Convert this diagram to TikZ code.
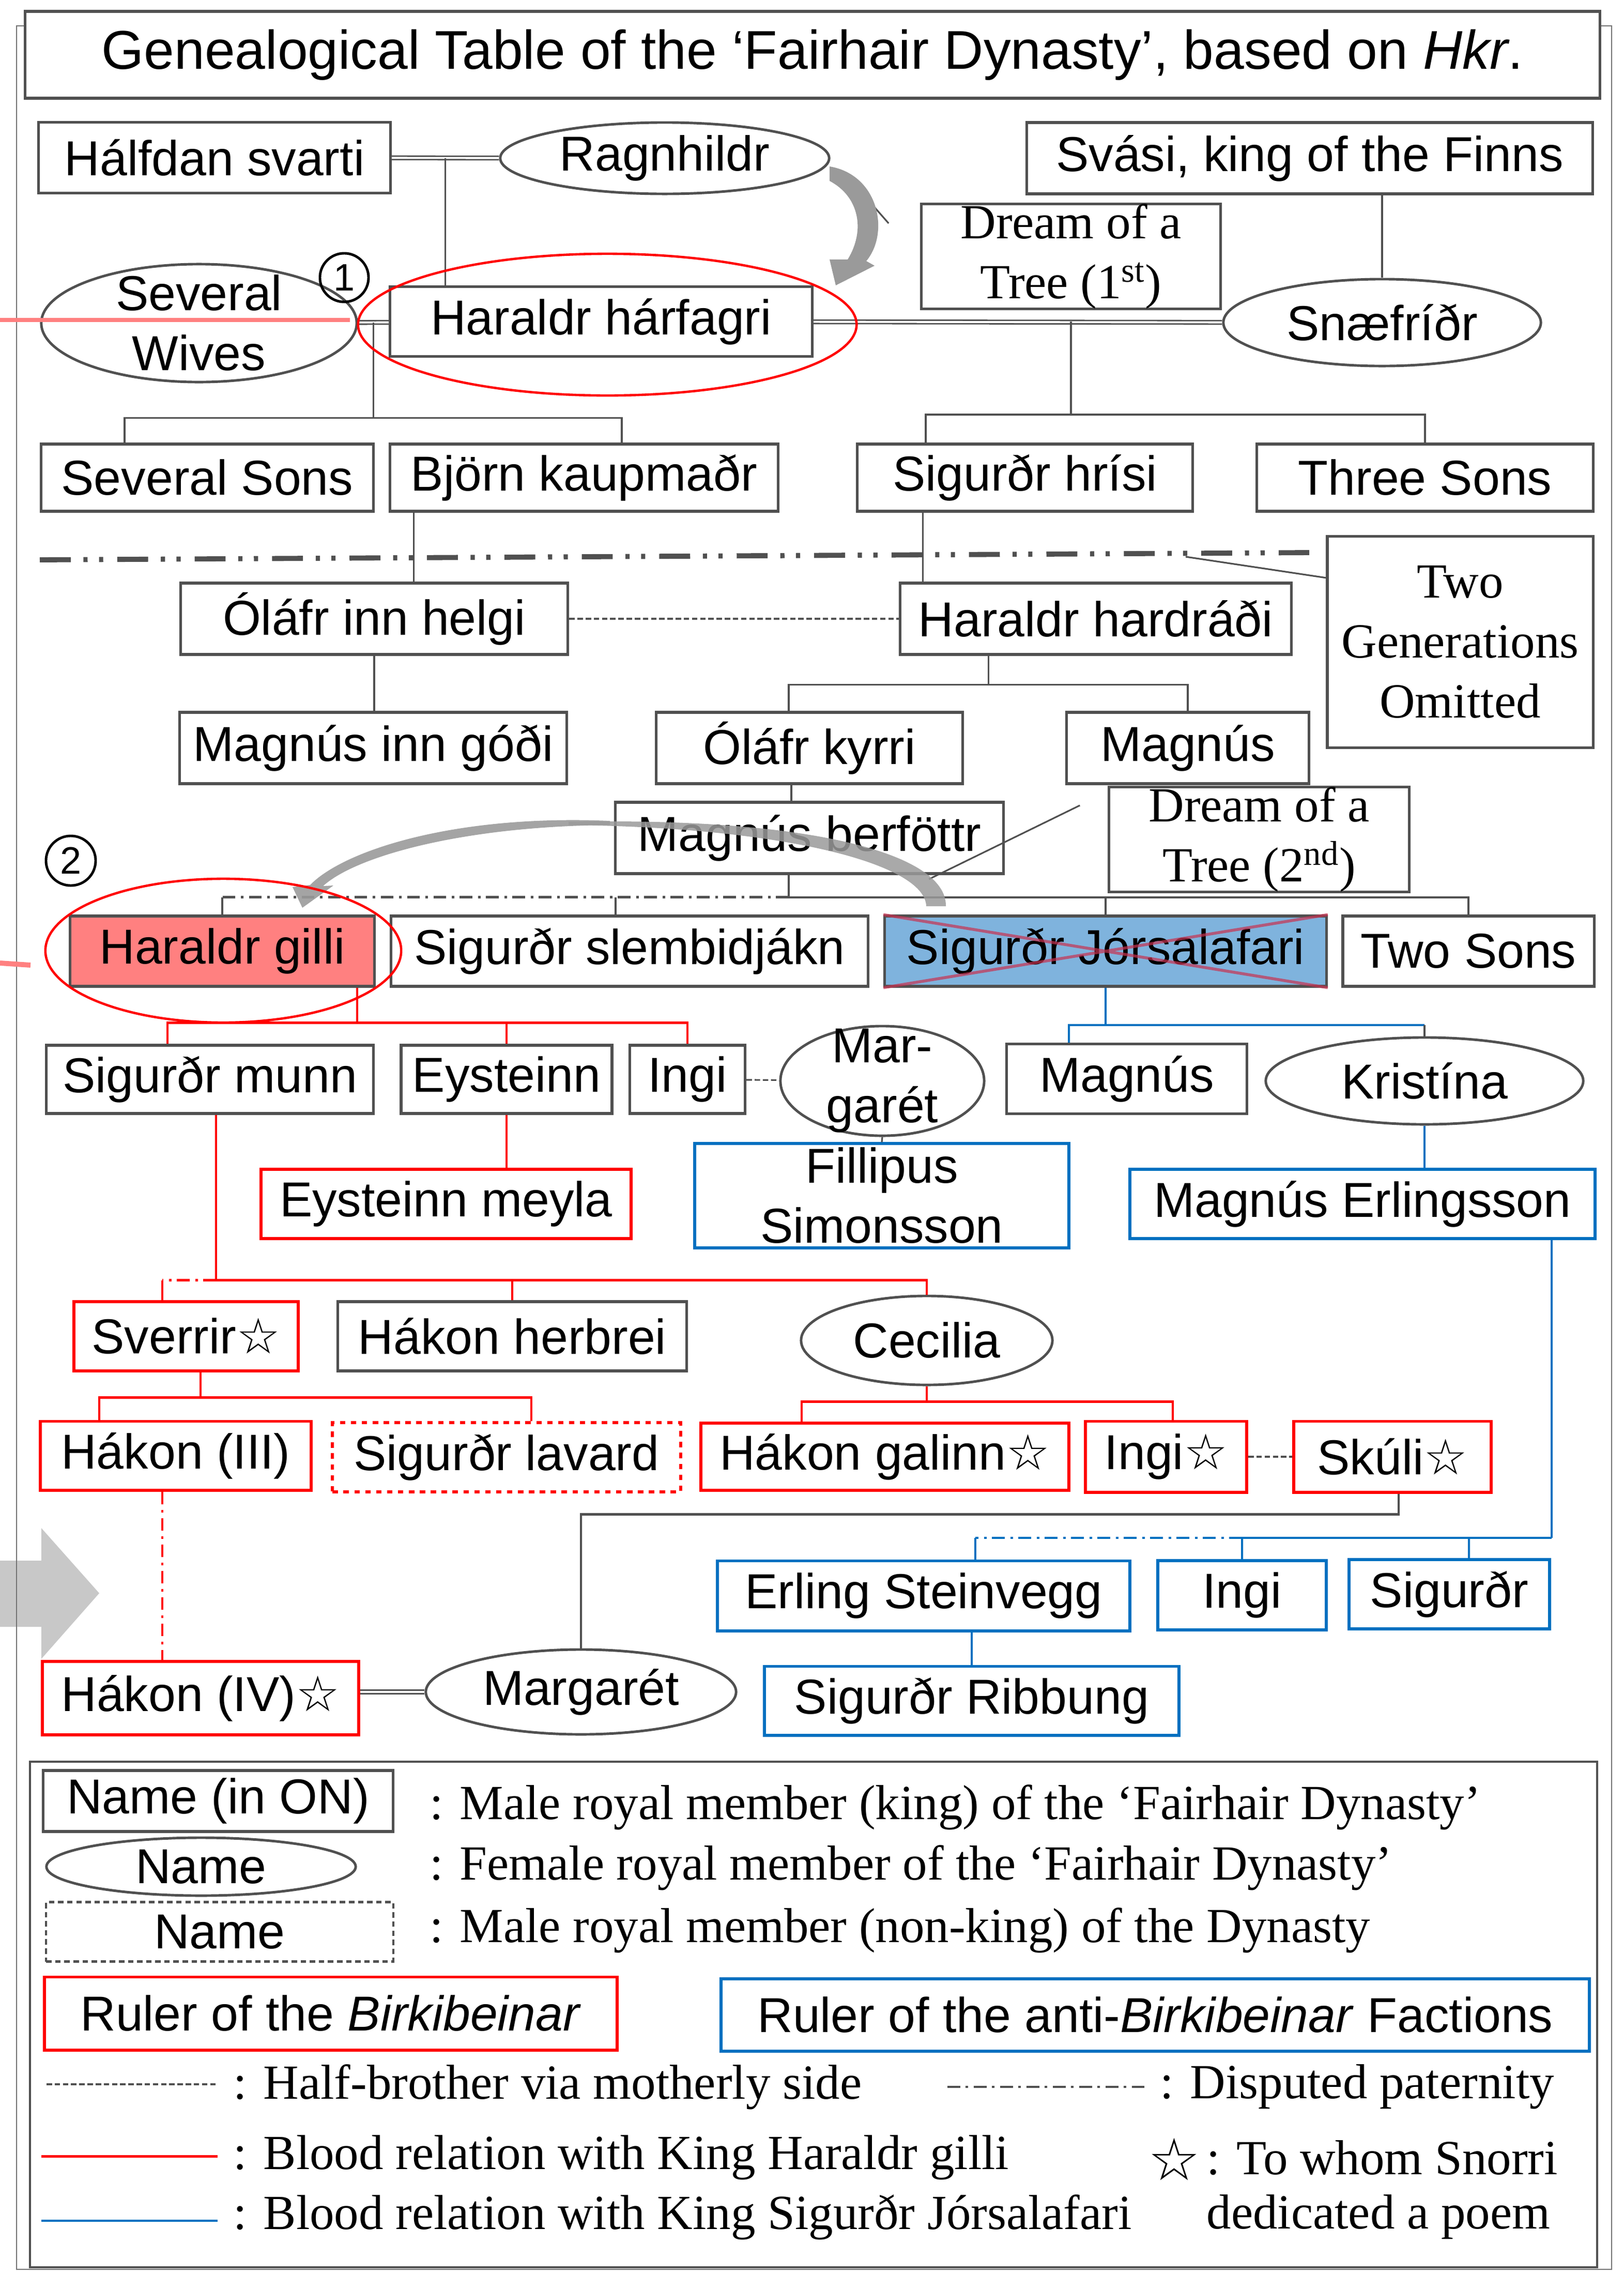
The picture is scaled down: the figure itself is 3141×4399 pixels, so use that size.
\documentclass[tikz,border=0pt]{standalone}
\usepackage{fontspec}
\setmainfont{Liberation Serif}
\setsansfont{Liberation Sans}
\newfontfamily\starfont{DejaVu Sans}
\usetikzlibrary{calc,shapes.geometric}
\definecolor{edge}{HTML}{505050}
\definecolor{bred}{HTML}{FF0000}
\definecolor{bblue}{HTML}{0070C0}
\definecolor{gillifill}{HTML}{FF8080}
\definecolor{jorfill}{HTML}{7FB3DD}
\definecolor{arrowgray}{HTML}{9A9A9A}
\definecolor{bigarrow}{HTML}{C8C8C8}
\newcommand{\st}{{\starfont\fontsize{27}{27}\selectfont ☆}}
\tikzset{
  sz/.style 2 args={minimum width=#1cm, minimum height=#2cm},
  person/.style={font=\sffamily\fontsize{27}{33}\selectfont, inner sep=0pt, align=center},
  king/.style={person, draw=edge, line width=1.5pt, fill=white, rectangle},
  queen/.style={draw=edge, line width=1.4pt, fill=white, ellipse, inner sep=0pt, label={[person]center:{#1}}},
  hbr/.style={king, draw=bred, line width=1.7pt},
  abr/.style={king, draw=bblue, line width=1.7pt},
  dreambox/.style={draw=edge, line width=1.5pt, fill=white, inner sep=0pt, align=center, font=\rmfamily\fontsize{27}{33}\selectfont},
  con/.style={draw=edge, line width=0.9pt},
  rcon/.style={draw=bred, line width=1.4pt},
  bcon/.style={draw=bblue, line width=1.2pt},
  dbl/.style={draw=edge, line width=0.8pt, double=white, double distance=1.1pt},
  halfbro/.style={draw=edge, line width=0.9pt, dash pattern=on 3pt off 1.5pt},
  disputed/.style={dash pattern=on 7pt off 3pt on 1.5pt off 3pt},
  legtext/.style={font=\rmfamily\fontsize{27}{33}\selectfont, inner sep=0pt, anchor=west},
  xred/.style={draw={rgb,255:red,200;green,50;blue,80}, line width=1.6pt, opacity=.7},
}
\begin{document}
\begin{tikzpicture}[x=0.01cm, y=-0.01cm]
\useasboundingbox (0,0) rectangle (3141,4399);
\fill[bigarrow] (0,3019) -- (80,3019) -- (80,2956) -- (192,3082) -- (80,3209) -- (80,3147) -- (0,3147) -- cycle;
\draw[edge!80, line width=0.8pt] (32,50) rectangle (3118,4390);
\node[king, sz={30.45}{1.68}, font=\sffamily\fontsize{30}{36}\selectfont] (title) at (1572,106) {Genealogical Table of the ‘Fairhair Dynasty’, based on \textit{Hkr}.};

\node[king, sz={6.8}{1.37}] (halfdan) at (415,305) {Hálfdan svarti};
\node[queen=Ragnhildr, sz={6.36}{1.38}] (ragnhildr) at (1286,306) {};
\node[king, sz={10.95}{1.38}] (svasi) at (2534,306) {Svási, king of the Finns};
\node[dreambox, sz={5.78}{1.98}] (dream1) at (2072,496) {Dream of a\\Tree (1\textsuperscript{st})};
\node[queen={Several\\Wives}, sz={6.1}{2.28}] (wives) at (385,625) {};
\node[king, sz={8.16}{1.35}] (harfagri) at (1163,622) {Haraldr hárfagri};
\node[queen=Snæfríðr, sz={6.14}{1.68}] (snaefridr) at (2674,624) {};
\node[king, sz={6.42}{1.3}] (sevsons) at (401,924) {Several Sons};
\node[king, sz={7.5}{1.3}] (bjorn) at (1130,924) {Björn kaupmaðr};
\node[king, sz={6.48}{1.3}] (hrisi) at (1983,924) {Sigurðr hrísi};
\node[king, sz={6.5}{1.3}] (threesons) at (2757,924) {Three Sons};
\node[dreambox, sz={5.14}{4.09}] (twogen) at (2825,1242) {Two\\Generations\\Omitted};
\node[king, sz={7.49}{1.38}] (olafh) at (724,1197) {Óláfr inn helgi};
\node[king, sz={7.57}{1.38}] (hardradi) at (2120,1197) {Haraldr hardráði};
\node[king, sz={7.49}{1.38}] (magnusg) at (722,1447) {Magnús inn góði};
\node[king, sz={5.92}{1.38}] (olafk) at (1566,1447) {Óláfr kyrri};
\node[king, sz={4.69}{1.38}] (magnus1) at (2298,1447) {Magnús};
\node[king, sz={7.51}{1.38}] (berfottr) at (1566,1621) {Magnús berföttr};
\node[dreambox, sz={5.8}{1.99}] (dream2) at (2436,1624) {Dream of a\\Tree (2\textsuperscript{nd})};
\node[king, sz={5.88}{1.36}, fill=gillifill] (gilli) at (430,1840) {Haraldr gilli};
\node[king, sz={9.23}{1.36}] (slembi) at (1218,1840) {Sigurðr slembidjákn};
\node[king, sz={8.54}{1.36}, fill=jorfill] (jorsala) at (2139,1840) {Sigurðr Jórsalafari};
\node[king, sz={4.86}{1.36}] (twosons) at (2841,1840) {Two Sons};
\node[king, sz={6.32}{1.32}] (munn) at (406,2088) {Sigurðr munn};
\node[king, sz={4.08}{1.32}] (eysteinn) at (980,2088) {Eysteinn};
\node[king, sz={2.23}{1.32}] (ingi1) at (1330,2088) {Ingi};
\node[queen={\fontsize{27}{29}\selectfont Mar-\\garét}, sz={3.94}{2.12}] (margaret1) at (1707,2091) {};
\node[king, sz={4.65}{1.35}] (magnus2) at (2180,2087) {Magnús};
\node[queen=Kristína, sz={6.14}{1.68}] (kristina) at (2756,2091) {};
\node[hbr, sz={7.16}{1.34}] (meyla) at (863,2329) {Eysteinn meyla};
\node[abr, sz={7.24}{2.01}] (fillipus) at (1706,2313) {Fillipus\\Simonsson};
\node[abr, sz={8.99}{1.34}] (erlingsson) at (2636,2329) {Magnús Erlingsson};
\node[hbr, sz={4.33}{1.34}] (sverrir) at (360,2585) {Sverrir\st};
\node[king, sz={6.75}{1.34}] (herbrei) at (991,2585) {Hákon herbrei};
\node[queen=Cecilia, sz={4.86}{1.72}] (cecilia) at (1793,2593) {};
\node[hbr, sz={5.23}{1.33}] (hakon3) at (340,2816) {Hákon (III)};
\node[hbr, sz={6.73}{1.34}, dashed] (lavard) at (980,2819) {Sigurðr lavard};
\node[hbr, sz={7.11}{1.3}] (galinn) at (1712,2818) {Hákon galinn\st};
\node[hbr, sz={3.12}{1.37}] (ingi2) at (2256,2818) {Ingi\st};
\node[hbr, sz={3.82}{1.37}] (skuli) at (2694,2818) {Skúli\st};
\node[abr, sz={7.98}{1.35}] (erling) at (1787,3087) {Erling Steinvegg};
\node[abr, sz={3.26}{1.34}] (ingi3) at (2403,3086) {Ingi};
\node[abr, sz={3.88}{1.34}] (sigurdr) at (2804,3084) {Sigurðr};
\node[hbr, sz={6.12}{1.42}] (hakon4) at (388,3285) {Hákon (IV)\st};
\node[queen=Margarét, sz={6.0}{1.64}] (margaret2) at (1124,3273) {};
\node[abr, sz={8.01}{1.33}] (ribbung) at (1880,3290) {Sigurðr Ribbung};

\draw[dbl] (halfdan) -- (ragnhildr);
\coordinate (hr) at ($(halfdan.east)!.5!(ragnhildr.west)$);
\draw[con] (hr) -- (hr |- harfagri.north);
\draw[dbl] (wives) -- (harfagri);
\coordinate (hw) at ($(wives.east)!.5!(harfagri.west)$);
\draw[con] (hw) -- ++(0,185) coordinate (hwb);
\draw[con] ($(sevsons.north)+(-160,0)$) |- (hwb) -| ($(bjorn.north)+(73,0)$);
\draw[dbl] (harfagri) -- (snaefridr);
\coordinate (hs) at (dream1.south |- harfagri.east);
\draw[con] (hs) -- ++(0,180) coordinate (hsb);
\draw[con] ($(hrisi.north)+(-192,0)$) |- (hsb) -| (threesons.north);
\draw[con] (svasi.south -| snaefridr.north) -- (snaefridr.north);
\draw[edge, line width=2.8pt, dash pattern=on 17pt off 7pt on 2.3pt off 6.3pt on 2.3pt off 7.7pt] (77,1083) -- (2533,1069);
\coordinate (omit) at (2294,1077);
\draw[con] (omit) -- ($(twogen.north west)+(0,83)$);
\draw[con] ($(bjorn.south west)+(48,0)$) coordinate (bj) -- (bj |- olafh.north);
\draw[con] ($(hrisi.south west)+(129,0)$) coordinate (hh) -- (hh |- hardradi.north);
\draw[halfbro] (olafh) -- (hardradi);
\draw[con] (olafh.south) -- (olafh.south |- magnusg.north);
\draw[con] ($(hardradi.south west)+(174,0)$) -- ++(0,56) coordinate (hdb);
\draw[con] ($(olafk.north)+(-40,0)$) |- (hdb) -| (magnus1.north);
\draw[con] ($(olafk.south)+(-35,0)$) coordinate (ok) -- (ok |- berfottr.north);
\draw[con] ($(berfottr.south)+(-40,0)$) -- ++(0,43) coordinate (bfb);
\draw[con, line width=1.2pt] (bfb) -| (twosons.north);
\draw[con] (bfb -| jorsala.north) -- (jorsala.north);
\draw[con, disputed, line width=1.5pt] (bfb) -- (bfb -| gilli.north);
\draw[con, line width=1.2pt] (bfb -| gilli.north) -- (gilli.north);
\draw[con] ($(slembi.north)+(-27,0)$) coordinate (sl) -- (sl |- bfb);
\draw[con] ($(dream1.west)+(-61,-64)$) -- ++(-72,-82);
\draw[con] ($(dream2.west)+(-54,-66)$) -- ($(berfottr.south east)+(-147,8)$);

\draw[bcon] (jorsala.south) -- ++(0,72) coordinate (jsb);
\draw[bcon] ($(magnus2.north)+(-112,0)$) |- (jsb) -- (jsb -| kristina.north);
\draw[con] (jsb -| kristina.north) -- (kristina.north);
\draw[rcon] ($(gilli.south)+(261,0)$) -- ++(0,68) coordinate (gb);
\draw[rcon] ($(munn.north)+(-82,0)$) |- (gb) -| (ingi1.north);
\draw[rcon] (gb -| eysteinn.north) -- (eysteinn.north);
\draw[halfbro] (ingi1) -- (margaret1);
\draw[con] (margaret1.south) -- (fillipus.north);
\draw[rcon] (eysteinn.south) -- (eysteinn.south |- meyla.north);
\draw[bcon] (kristina.south) -- (kristina.south |- erlingsson.north);
\draw[rcon] ($(munn.south)+(12,0)$) -- ++(0,320) coordinate (mb);
\draw[rcon] (mb) -| (cecilia.north);
\draw[rcon] (mb -| herbrei.north) -- (herbrei.north);
\draw[rcon, disputed] (mb) -- ++(-104,0) coordinate (sv);
\draw[rcon] (sv) -- (sv |- sverrir.north);
\draw[rcon] ($(sverrir.south)+(28,0)$) -- ++(0,48) coordinate (sb);
\draw[rcon] ($(hakon3.north)+(-148,0)$) |- (sb) -| ($(lavard.north)+(48,0)$);
\draw[rcon] (cecilia.south) -- ++(0,30) coordinate (cb);
\draw[rcon] ($(galinn.north)+(-161,0)$) |- (cb) -| ($(ingi2.north)+(13,0)$);
\draw[halfbro] (ingi2) -- (skuli);
\draw[rcon, disputed] ($(hakon3.south)+(-26,0)$) coordinate (h3) -- (h3 |- hakon4.north);
\draw[dbl] (margaret2.west -| hakon4.east) -- (margaret2.west);
\draw[con, line width=1.2pt] (margaret2.north) |- ($(skuli.south)+(12,40)$) coordinate (sk) -- (sk |- skuli.south);
\draw[bcon] ($(erlingsson.south)+(366,0)$) -- ++(0,576) coordinate (eb);
\draw[bcon] (eb) -| (ingi3.north);
\draw[bcon] ($(sigurdr.north)+(38,0)$) coordinate (sg) -- (sg |- eb);
\draw[bcon, disputed] (eb -| ingi3.north) -- (eb -| 1887,0) coordinate (eg);
\draw[bcon] (eg) -- (eg |- erling.north);
\draw[bcon] (ribbung.north |- erling.south) -- (ribbung.north);

\draw[xred] (jorsala.north west) -- (jorsala.south east) (jorsala.south west) -- (jorsala.north east);
\fill[arrowgray] (1605,322) .. controls (1700,338) and (1722,450) .. (1676,505) -- (1692,514) -- (1617,552) -- (1605,502) -- (1640,502) .. controls (1675,445) and (1662,380) .. (1605,350) -- cycle;
\fill[arrowgray, opacity=.9] (1180,1588) .. controls (880,1575) and (665,1645) .. (600,1712) -- (566,1716) -- (585,1756) -- (645,1713) -- (625,1714) .. controls (690,1655) and (900,1598) .. (1180,1596) -- cycle;
\fill[arrowgray, opacity=.85] (1100,1590) .. controls (1560,1580) and (1832,1650) .. (1830,1753) -- (1792,1753) .. controls (1790,1672) and (1520,1600) .. (1100,1596) -- cycle;
\draw[bred, line width=1.3pt] (1175,628) ellipse [x radius=4.82cm, y radius=1.37cm];
\draw[bred, line width=1.3pt] (432,1839) ellipse [x radius=3.44cm, y radius=1.39cm];
\draw[gillifill, line width=2.3pt] (0,619) -- (677,619);
\draw[gillifill, line width=2.8pt] (0,1863) -- (59,1867);
\node[circle, draw, line width=1.4pt, minimum size=0.94cm, inner sep=0pt, font=\sffamily\fontsize{21}{21}\selectfont] (one) at (666,537) {1};
\node[circle, draw, line width=1.4pt, minimum size=0.96cm, inner sep=0pt, font=\sffamily\fontsize{21}{21}\selectfont] (two) at (137,1665) {2};

\draw[edge, line width=1pt] (58,3408) rectangle (3090,4386);
\node[king, sz={6.77}{1.18}] (lgking) at (422,3484) {Name (in ON)};
\node[legtext] (lt1) at (831,3496) {: Male royal member (king) of the ‘Fairhair Dynasty’};
\node[queen=Name, sz={5.98}{1.12}] (lgqueen) at (389,3611) {};
\node[legtext] (lt2) at (831,3613) {: Female royal member of the ‘Fairhair Dynasty’};
\node[king, sz={6.71}{1.15}, dash pattern=on 3pt off 2pt, line width=1.2pt] (lgnon) at (425,3737) {Name};
\node[legtext] (lt3) at (831,3734) {: Male royal member (non-king) of the Dynasty};
\node[hbr, sz={11.08}{1.41}] (lgbirk) at (640,3895) {Ruler of the \textit{Birkibeinar}};
\node[abr, sz={16.79}{1.4}] (lganti) at (2235,3898) {Ruler of the anti-\textit{Birkibeinar} Factions};
\draw[halfbro] (90,4032) -- (417,4032);
\node[legtext] (lt4) at (451,4037) {: Half-brother via motherly side};
\draw[con, disputed] (1833,4037) -- (2214,4037);
\node[legtext] (lt5) at (2244,4037) {: Disputed paternity};
\draw[rcon] (80,4171) -- (421,4171);
\node[legtext] (lt6) at (451,4174) {: Blood relation with King Haraldr gilli};
\node[font=\starfont\fontsize{32}{32}\selectfont, inner sep=0pt] (lgstar) at (2272,4177) {☆};
\node[legtext] (lt7) at (2334,4174) {: To whom Snorri};
\draw[bcon] (80,4296) -- (421,4296);
\node[legtext] (lt8) at (451,4289) {: Blood relation with King Sigurðr Jórsalafari};
\node[legtext] (lt9) at (2334,4289) {dedicated a poem};
\end{tikzpicture}
\end{document}
